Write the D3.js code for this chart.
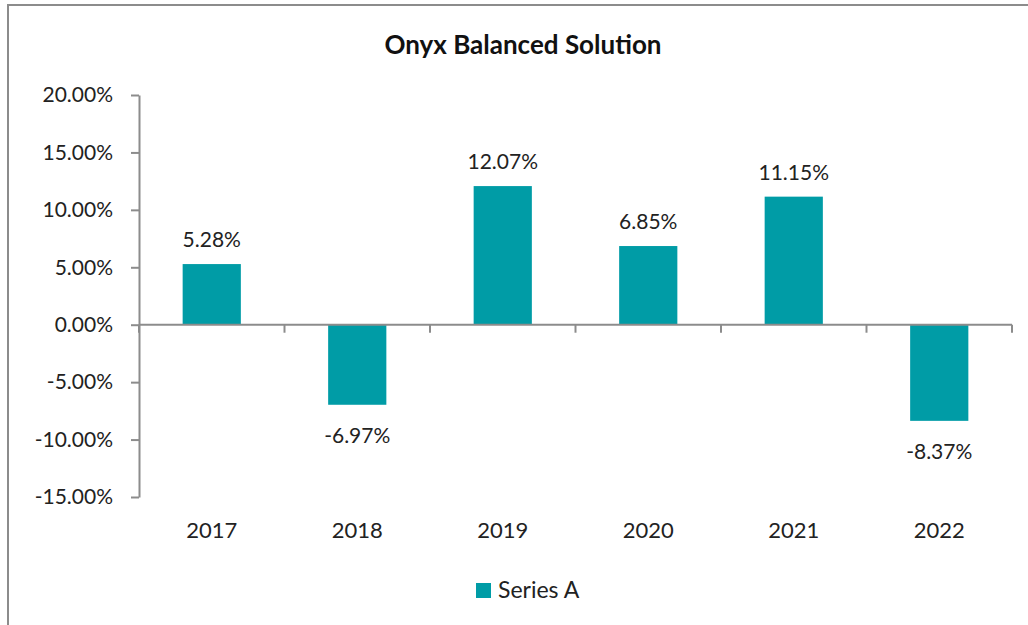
<!DOCTYPE html>
<html lang="en">
<head>
<meta charset="UTF-8">
<title>Onyx Balanced Solution</title>
<script src="https://d3js.org/d3.v7.min.js"></script>
<style>
  body { margin: 0; background: #fff; font-family: Lato, 'Open Sans', sans-serif; }
  .axis text { font-size: 20px; fill: #222; font-family: Lato, sans-serif; }
  .axis path, .axis line { stroke: #8c8c8c; stroke-width: 2px; }
</style>
</head>
<body>
<div id="chart"></div>
<script>
  // data
  const years = ["2017", "2018", "2019", "2020", "2021", "2022"];
  const returns = [5.28, -6.97, 12.07, 6.85, 11.15, -8.37];
  const yTicks = [-15, -10, -5, 0, 5, 10, 15, 20];
  const seriesName = "Series A";

  const W = 1028, H = 625;
  const margin = { top: 95, left: 139, right: 16, bottom: 128 };
  const color = "#009ca6";

  const svg = d3.select("#chart").append("svg")
    .attr("width", W).attr("height", H);

  // frame
  svg.append("rect")
    .attr("x", 8).attr("y", 5)
    .attr("width", W + 20).attr("height", H + 20)
    .attr("fill", "none").attr("stroke", "#8c8c8c").attr("stroke-width", 2);

  svg.append("text")
    .attr("x", 523).attr("y", 54)
    .attr("text-anchor", "middle")
    .style("font-size", "26px").style("font-weight", "bold").style("fill", "#111")
    .text("Onyx Balanced Solution");

  const x = d3.scaleBand().domain(years).range([margin.left, W - margin.right]);
  const y = d3.scaleLinear().domain([-15, 20]).range([H - margin.bottom, margin.top]);

  // y axis
  svg.append("g").attr("class", "axis")
    .attr("transform", `translate(${margin.left},0)`)
    .call(d3.axisLeft(y).tickValues(yTicks).tickSize(8).tickSizeOuter(0)
      .tickFormat(d => d.toFixed(2) + "%"))
    .call(g => g.selectAll("text").attr("x", -26).style("font-size", "21px"));

  // bars
  const bw = x.bandwidth() * 0.4;
  svg.selectAll(".bar").data(returns).enter().append("rect")
    .attr("class", "bar")
    .attr("x", (d, i) => x(years[i]) + (x.bandwidth() - bw) / 2)
    .attr("y", d => y(Math.max(0, d)))
    .attr("width", bw)
    .attr("height", d => Math.abs(y(d) - y(0)))
    .attr("fill", color);

  // x axis at zero, ticks between categories
  const xAxis = svg.append("g").attr("class", "axis")
    .attr("transform", `translate(0,${y(0)})`);
  xAxis.append("line")
    .attr("x1", margin.left).attr("x2", W - margin.right)
    .attr("stroke", "#8c8c8c").attr("stroke-width", 2);
  const bounds = years.map(d => x(d)).concat([x(years[years.length - 1]) + x.bandwidth()]);
  xAxis.selectAll(".tk").data(bounds).enter().append("line")
    .attr("x1", d => d).attr("x2", d => d)
    .attr("y1", 0).attr("y2", 8)
    .attr("stroke", "#8c8c8c").attr("stroke-width", 2);

  // year labels
  svg.selectAll(".yr").data(years).enter().append("text")
    .attr("x", d => x(d) + x.bandwidth() / 2)
    .attr("y", 538)
    .attr("text-anchor", "middle")
    .style("font-size", "22px").style("fill", "#222")
    .text(d => d);

  // value labels
  svg.selectAll(".lbl").data(returns).enter().append("text")
    .attr("x", (d, i) => x(years[i]) + x.bandwidth() / 2)
    .attr("y", d => d >= 0 ? y(d) - 17 : y(d) + 38)
    .attr("text-anchor", "middle")
    .style("font-size", "21px").style("fill", "#222")
    .text(d => d.toFixed(2) + "%");

  // legend
  const lg = svg.append("g").attr("transform", "translate(476,583)");
  lg.append("rect").attr("width", 15).attr("height", 15).attr("fill", color);
  lg.append("text").attr("x", 22).attr("y", 15)
    .style("font-size", "23px").style("fill", "#222").text(seriesName);
</script>
</body>
</html>
